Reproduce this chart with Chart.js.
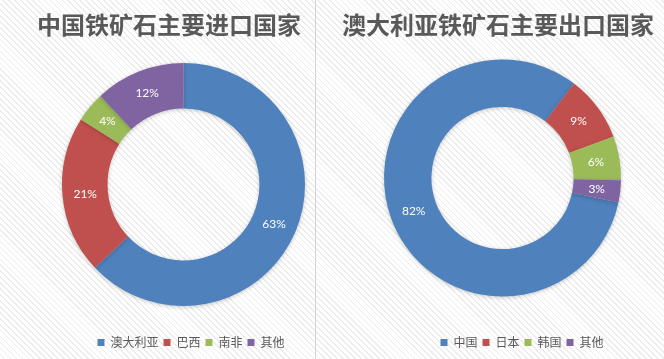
<!DOCTYPE html>
<html>
<head>
<meta charset="utf-8">
<script src="https://cdn.jsdelivr.net/npm/chart.js@4/dist/chart.umd.min.js"></script>
<style>
  html, body { margin: 0; padding: 0; }
  body {
    width: 664px; height: 359px; overflow: hidden; position: relative;
    background: #ffffff repeating-linear-gradient(45deg, #ffffff 0px, #ffffff 3px, #ececec 3px, #ececec 4.2px);
  }
  #p1 { position: absolute; left: 0; top: 0; width: 315px; height: 359px; }
  #p2 { position: absolute; left: 316px; top: 0; width: 348px; height: 359px; }
  #divider { position: absolute; left: 315px; top: 0; width: 1px; height: 359px; background: #d4d4d4; }
</style>
</head>
<body>
<div id="p1"><canvas id="c1" width="315" height="359"></canvas></div>
<div id="divider"></div>
<div id="p2"><canvas id="c2" width="348" height="359"></canvas></div>
<script>
// ---- data ----
const importTitle = '中国铁矿石主要进口国家';
const importCategories = ['澳大利亚', '巴西', '南非', '其他'];
const importValues = [63, 21, 4, 12];

const exportTitle = '澳大利亚铁矿石主要出口国家';
const exportCategories = ['中国', '日本', '韩国', '其他'];
const exportValues = [82, 9, 6, 3];

const sliceColors = ['#4F81BD', '#C0504D', '#9BBB59', '#8064A2'];

// ---- plugins ----
const pctLabels = {
  id: 'pctLabels',
  afterDatasetsDraw(chart) {
    const ctx = chart.ctx;
    const meta = chart.getDatasetMeta(0);
    const data = chart.data.datasets[0].data;
    ctx.save();
    ctx.fillStyle = '#ffffff';
    ctx.font = '12px Lato, "Open Sans", sans-serif';
    ctx.textAlign = 'center';
    ctx.textBaseline = 'middle';
    meta.data.forEach((arc, i) => {
      const p = arc.tooltipPosition();
      ctx.fillText(data[i] + '%', p.x, p.y);
    });
    ctx.restore();
  }
};

const shadow = {
  id: 'shadow',
  beforeDatasetsDraw(chart) {
    const ctx = chart.ctx;
    ctx.save();
    ctx.shadowColor = 'rgba(0,0,0,0.22)';
    ctx.shadowBlur = 4;
    ctx.shadowOffsetX = 0;
    ctx.shadowOffsetY = 1;
  },
  afterDatasetsDraw(chart) {
    chart.ctx.restore();
  }
};

const placeBoxes = {
  id: 'placeBoxes',
  afterLayout(chart, args, opts) {
    const t = chart.titleBlock;
    if (t) {
      const w = 320;
      t.left = opts.titleX - w / 2; t.right = opts.titleX + w / 2;
      t.width = w;
      const h = t.bottom - t.top;
      t.top = opts.titleY - 14.4; t.bottom = t.top + h;
    }
    const l = chart.legend;
    if (l) {
      const w = l.right - l.left;
      const h = l.bottom - l.top;
      l.left = opts.legendX - w / 2; l.right = l.left + w;
      l.top = opts.legendY - 5 - 6.5; l.bottom = l.top + h;
    }
  }
};

function makeChart(id, title, cats, vals, rotation, cutout, pad, place) {
  return new Chart(document.getElementById(id), {
    type: 'doughnut',
    data: {
      labels: cats,
      datasets: [{
        data: vals,
        backgroundColor: sliceColors,
        borderWidth: 0
      }]
    },
    options: {
      responsive: false,
      animation: false,
      rotation: rotation,
      cutout: cutout,
      layout: { padding: pad },
      plugins: {
        title: {
          display: true,
          text: title,
          color: '#595959',
          font: { family: '"Noto Sans CJK SC", sans-serif', size: 24, weight: 'bold' },
          padding: 0
        },
        legend: {
          display: true,
          position: 'bottom',
          labels: {
            color: '#595959',
            font: { family: '"Noto Sans CJK SC", sans-serif', size: 12 },
            boxWidth: 7,
            boxHeight: 7,
            padding: 5
          }
        },
        tooltip: { enabled: false },
        placeBoxes: place
      }
    },
    plugins: [shadow, pctLabels, placeBoxes]
  });
}

makeChart('c1', importTitle, importCategories, importValues, 0, '62.5%',
  { left: 62, right: 10, top: 32.2, bottom: 24 },
  { titleX: 169, titleY: 25, legendX: 191, legendY: 343 });

makeChart('c2', exportTitle, exportCategories, exportValues, 101.9, '60%',
  { left: 68, right: 43, top: 30.2, bottom: 35 },
  { titleX: 182, titleY: 25, legendX: 206, legendY: 343 });
</script>
</body>
</html>
